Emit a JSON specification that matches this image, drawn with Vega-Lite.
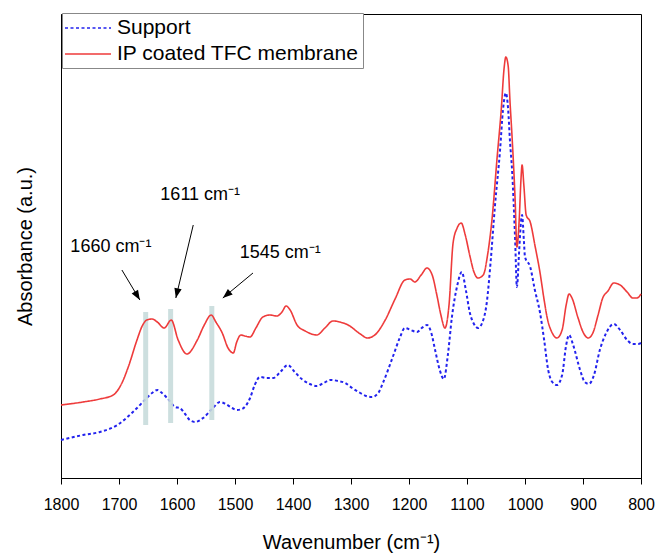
{
  "$schema": "https://vega.github.io/schema/vega-lite/v6.json",
  "width": 580,
  "height": 464,
  "autosize": {"type": "none"},
  "padding": {"left": 61, "top": 14, "right": 16, "bottom": 76},
  "background": "white",
  "config": {
    "font": "Liberation Sans",
    "view": {"stroke": "black", "strokeWidth": 1},
    "axis": {"grid": false, "domainColor": "black", "tickColor": "black", "labelColor": "black", "titleColor": "black", "titleFontWeight": "normal"}
  },
  "datasets": {
    "spectra": [
      {"series": "IP coated TFC membrane", "wn": 1800, "a": 73},
      {"series": "IP coated TFC membrane", "wn": 1762, "a": 76},
      {"series": "IP coated TFC membrane", "wn": 1733, "a": 79},
      {"series": "IP coated TFC membrane", "wn": 1710, "a": 83},
      {"series": "IP coated TFC membrane", "wn": 1695, "a": 95},
      {"series": "IP coated TFC membrane", "wn": 1684, "a": 111},
      {"series": "IP coated TFC membrane", "wn": 1669, "a": 138},
      {"series": "IP coated TFC membrane", "wn": 1660, "a": 152},
      {"series": "IP coated TFC membrane", "wn": 1652, "a": 158},
      {"series": "IP coated TFC membrane", "wn": 1643, "a": 159},
      {"series": "IP coated TFC membrane", "wn": 1634, "a": 156},
      {"series": "IP coated TFC membrane", "wn": 1622, "a": 150},
      {"series": "IP coated TFC membrane", "wn": 1610, "a": 158},
      {"series": "IP coated TFC membrane", "wn": 1598, "a": 138},
      {"series": "IP coated TFC membrane", "wn": 1583, "a": 124},
      {"series": "IP coated TFC membrane", "wn": 1565, "a": 138},
      {"series": "IP coated TFC membrane", "wn": 1553, "a": 153},
      {"series": "IP coated TFC membrane", "wn": 1541, "a": 163},
      {"series": "IP coated TFC membrane", "wn": 1533, "a": 156},
      {"series": "IP coated TFC membrane", "wn": 1522, "a": 145},
      {"series": "IP coated TFC membrane", "wn": 1512, "a": 130},
      {"series": "IP coated TFC membrane", "wn": 1503, "a": 125},
      {"series": "IP coated TFC membrane", "wn": 1497, "a": 136},
      {"series": "IP coated TFC membrane", "wn": 1490, "a": 143},
      {"series": "IP coated TFC membrane", "wn": 1483, "a": 142},
      {"series": "IP coated TFC membrane", "wn": 1474, "a": 141},
      {"series": "IP coated TFC membrane", "wn": 1464, "a": 150},
      {"series": "IP coated TFC membrane", "wn": 1452, "a": 161},
      {"series": "IP coated TFC membrane", "wn": 1440, "a": 163},
      {"series": "IP coated TFC membrane", "wn": 1428, "a": 162},
      {"series": "IP coated TFC membrane", "wn": 1419, "a": 166},
      {"series": "IP coated TFC membrane", "wn": 1412, "a": 172},
      {"series": "IP coated TFC membrane", "wn": 1405, "a": 168},
      {"series": "IP coated TFC membrane", "wn": 1393, "a": 153},
      {"series": "IP coated TFC membrane", "wn": 1379, "a": 147},
      {"series": "IP coated TFC membrane", "wn": 1359, "a": 143},
      {"series": "IP coated TFC membrane", "wn": 1345, "a": 150},
      {"series": "IP coated TFC membrane", "wn": 1331, "a": 157},
      {"series": "IP coated TFC membrane", "wn": 1319, "a": 156},
      {"series": "IP coated TFC membrane", "wn": 1305, "a": 153},
      {"series": "IP coated TFC membrane", "wn": 1284, "a": 144},
      {"series": "IP coated TFC membrane", "wn": 1272, "a": 140},
      {"series": "IP coated TFC membrane", "wn": 1259, "a": 143},
      {"series": "IP coated TFC membrane", "wn": 1241, "a": 158},
      {"series": "IP coated TFC membrane", "wn": 1224, "a": 179},
      {"series": "IP coated TFC membrane", "wn": 1207, "a": 198},
      {"series": "IP coated TFC membrane", "wn": 1198, "a": 199},
      {"series": "IP coated TFC membrane", "wn": 1190, "a": 196},
      {"series": "IP coated TFC membrane", "wn": 1179, "a": 203},
      {"series": "IP coated TFC membrane", "wn": 1169, "a": 210},
      {"series": "IP coated TFC membrane", "wn": 1160, "a": 203},
      {"series": "IP coated TFC membrane", "wn": 1152, "a": 183},
      {"series": "IP coated TFC membrane", "wn": 1145, "a": 163},
      {"series": "IP coated TFC membrane", "wn": 1138, "a": 150},
      {"series": "IP coated TFC membrane", "wn": 1131, "a": 173},
      {"series": "IP coated TFC membrane", "wn": 1124, "a": 235},
      {"series": "IP coated TFC membrane", "wn": 1117, "a": 250},
      {"series": "IP coated TFC membrane", "wn": 1110, "a": 255},
      {"series": "IP coated TFC membrane", "wn": 1103, "a": 243},
      {"series": "IP coated TFC membrane", "wn": 1095, "a": 222},
      {"series": "IP coated TFC membrane", "wn": 1088, "a": 206},
      {"series": "IP coated TFC membrane", "wn": 1081, "a": 200},
      {"series": "IP coated TFC membrane", "wn": 1072, "a": 203},
      {"series": "IP coated TFC membrane", "wn": 1064, "a": 225},
      {"series": "IP coated TFC membrane", "wn": 1057, "a": 258},
      {"series": "IP coated TFC membrane", "wn": 1048, "a": 321},
      {"series": "IP coated TFC membrane", "wn": 1041, "a": 368},
      {"series": "IP coated TFC membrane", "wn": 1036, "a": 410},
      {"series": "IP coated TFC membrane", "wn": 1033, "a": 421},
      {"series": "IP coated TFC membrane", "wn": 1029, "a": 412},
      {"series": "IP coated TFC membrane", "wn": 1026, "a": 378},
      {"series": "IP coated TFC membrane", "wn": 1022, "a": 338},
      {"series": "IP coated TFC membrane", "wn": 1017, "a": 278},
      {"series": "IP coated TFC membrane", "wn": 1014, "a": 231},
      {"series": "IP coated TFC membrane", "wn": 1010, "a": 258},
      {"series": "IP coated TFC membrane", "wn": 1007, "a": 298},
      {"series": "IP coated TFC membrane", "wn": 1005, "a": 313},
      {"series": "IP coated TFC membrane", "wn": 1002, "a": 293},
      {"series": "IP coated TFC membrane", "wn": 998, "a": 263},
      {"series": "IP coated TFC membrane", "wn": 991, "a": 256},
      {"series": "IP coated TFC membrane", "wn": 983, "a": 233},
      {"series": "IP coated TFC membrane", "wn": 974, "a": 205},
      {"series": "IP coated TFC membrane", "wn": 967, "a": 178},
      {"series": "IP coated TFC membrane", "wn": 962, "a": 161},
      {"series": "IP coated TFC membrane", "wn": 953, "a": 145},
      {"series": "IP coated TFC membrane", "wn": 945, "a": 140},
      {"series": "IP coated TFC membrane", "wn": 936, "a": 148},
      {"series": "IP coated TFC membrane", "wn": 929, "a": 173},
      {"series": "IP coated TFC membrane", "wn": 924, "a": 184},
      {"series": "IP coated TFC membrane", "wn": 919, "a": 180},
      {"series": "IP coated TFC membrane", "wn": 909, "a": 161},
      {"series": "IP coated TFC membrane", "wn": 900, "a": 146},
      {"series": "IP coated TFC membrane", "wn": 891, "a": 140},
      {"series": "IP coated TFC membrane", "wn": 883, "a": 145},
      {"series": "IP coated TFC membrane", "wn": 874, "a": 163},
      {"series": "IP coated TFC membrane", "wn": 866, "a": 180},
      {"series": "IP coated TFC membrane", "wn": 857, "a": 187},
      {"series": "IP coated TFC membrane", "wn": 847, "a": 195},
      {"series": "IP coated TFC membrane", "wn": 836, "a": 193},
      {"series": "IP coated TFC membrane", "wn": 824, "a": 186},
      {"series": "IP coated TFC membrane", "wn": 814, "a": 180},
      {"series": "IP coated TFC membrane", "wn": 807, "a": 180},
      {"series": "IP coated TFC membrane", "wn": 800, "a": 184},
      {"series": "Support", "wn": 1800, "a": 38},
      {"series": "Support", "wn": 1762, "a": 43},
      {"series": "Support", "wn": 1733, "a": 46},
      {"series": "Support", "wn": 1703, "a": 53},
      {"series": "Support", "wn": 1676, "a": 66},
      {"series": "Support", "wn": 1652, "a": 80},
      {"series": "Support", "wn": 1643, "a": 85},
      {"series": "Support", "wn": 1634, "a": 88},
      {"series": "Support", "wn": 1626, "a": 85},
      {"series": "Support", "wn": 1617, "a": 80},
      {"series": "Support", "wn": 1603, "a": 71},
      {"series": "Support", "wn": 1595, "a": 70},
      {"series": "Support", "wn": 1586, "a": 64},
      {"series": "Support", "wn": 1578, "a": 58},
      {"series": "Support", "wn": 1569, "a": 56},
      {"series": "Support", "wn": 1555, "a": 60},
      {"series": "Support", "wn": 1538, "a": 70},
      {"series": "Support", "wn": 1526, "a": 76},
      {"series": "Support", "wn": 1516, "a": 74},
      {"series": "Support", "wn": 1505, "a": 70},
      {"series": "Support", "wn": 1497, "a": 68},
      {"series": "Support", "wn": 1488, "a": 69},
      {"series": "Support", "wn": 1474, "a": 80},
      {"series": "Support", "wn": 1466, "a": 93},
      {"series": "Support", "wn": 1457, "a": 101},
      {"series": "Support", "wn": 1445, "a": 100},
      {"series": "Support", "wn": 1434, "a": 100},
      {"series": "Support", "wn": 1422, "a": 106},
      {"series": "Support", "wn": 1409, "a": 113},
      {"series": "Support", "wn": 1397, "a": 106},
      {"series": "Support", "wn": 1383, "a": 98},
      {"series": "Support", "wn": 1371, "a": 94},
      {"series": "Support", "wn": 1359, "a": 92},
      {"series": "Support", "wn": 1347, "a": 95},
      {"series": "Support", "wn": 1336, "a": 98},
      {"series": "Support", "wn": 1322, "a": 97},
      {"series": "Support", "wn": 1310, "a": 95},
      {"series": "Support", "wn": 1298, "a": 90},
      {"series": "Support", "wn": 1284, "a": 85},
      {"series": "Support", "wn": 1274, "a": 82},
      {"series": "Support", "wn": 1264, "a": 81},
      {"series": "Support", "wn": 1253, "a": 85},
      {"series": "Support", "wn": 1245, "a": 95},
      {"series": "Support", "wn": 1228, "a": 121},
      {"series": "Support", "wn": 1216, "a": 140},
      {"series": "Support", "wn": 1207, "a": 150},
      {"series": "Support", "wn": 1197, "a": 148},
      {"series": "Support", "wn": 1186, "a": 146},
      {"series": "Support", "wn": 1178, "a": 150},
      {"series": "Support", "wn": 1169, "a": 153},
      {"series": "Support", "wn": 1162, "a": 146},
      {"series": "Support", "wn": 1155, "a": 128},
      {"series": "Support", "wn": 1147, "a": 108},
      {"series": "Support", "wn": 1140, "a": 99},
      {"series": "Support", "wn": 1133, "a": 123},
      {"series": "Support", "wn": 1126, "a": 161},
      {"series": "Support", "wn": 1117, "a": 192},
      {"series": "Support", "wn": 1109, "a": 206},
      {"series": "Support", "wn": 1102, "a": 188},
      {"series": "Support", "wn": 1095, "a": 165},
      {"series": "Support", "wn": 1088, "a": 154},
      {"series": "Support", "wn": 1081, "a": 150},
      {"series": "Support", "wn": 1072, "a": 158},
      {"series": "Support", "wn": 1066, "a": 175},
      {"series": "Support", "wn": 1059, "a": 218},
      {"series": "Support", "wn": 1052, "a": 271},
      {"series": "Support", "wn": 1043, "a": 328},
      {"series": "Support", "wn": 1038, "a": 368},
      {"series": "Support", "wn": 1033, "a": 385},
      {"series": "Support", "wn": 1029, "a": 368},
      {"series": "Support", "wn": 1026, "a": 338},
      {"series": "Support", "wn": 1022, "a": 305},
      {"series": "Support", "wn": 1017, "a": 238},
      {"series": "Support", "wn": 1014, "a": 191},
      {"series": "Support", "wn": 1010, "a": 228},
      {"series": "Support", "wn": 1007, "a": 256},
      {"series": "Support", "wn": 1005, "a": 263},
      {"series": "Support", "wn": 1002, "a": 238},
      {"series": "Support", "wn": 1000, "a": 221},
      {"series": "Support", "wn": 991, "a": 211},
      {"series": "Support", "wn": 983, "a": 188},
      {"series": "Support", "wn": 974, "a": 165},
      {"series": "Support", "wn": 967, "a": 138},
      {"series": "Support", "wn": 960, "a": 108},
      {"series": "Support", "wn": 953, "a": 96},
      {"series": "Support", "wn": 945, "a": 93},
      {"series": "Support", "wn": 936, "a": 103},
      {"series": "Support", "wn": 929, "a": 133},
      {"series": "Support", "wn": 924, "a": 143},
      {"series": "Support", "wn": 917, "a": 133},
      {"series": "Support", "wn": 905, "a": 108},
      {"series": "Support", "wn": 897, "a": 96},
      {"series": "Support", "wn": 890, "a": 94},
      {"series": "Support", "wn": 881, "a": 103},
      {"series": "Support", "wn": 871, "a": 128},
      {"series": "Support", "wn": 860, "a": 145},
      {"series": "Support", "wn": 847, "a": 154},
      {"series": "Support", "wn": 836, "a": 148},
      {"series": "Support", "wn": 824, "a": 138},
      {"series": "Support", "wn": 814, "a": 134},
      {"series": "Support", "wn": 805, "a": 134},
      {"series": "Support", "wn": 800, "a": 135}
    ],
    "bands": [
      {"wn": 1654, "lo": 53, "hi": 166},
      {"wn": 1611, "lo": 55, "hi": 169},
      {"wn": 1540, "lo": 58, "hi": 172}
    ],
    "labels": [
      {"label": "1660 cm⁻¹", "wn": 1714, "a": 231},
      {"label": "1611 cm⁻¹", "wn": 1560, "a": 283},
      {"label": "1545 cm⁻¹", "wn": 1422, "a": 225}
    ],
    "arrows": [
      {"wn": 1695, "a": 208, "wn2": 1664, "a2": 178, "dir": 149},
      {"wn": 1572, "a": 253, "wn2": 1602, "a2": 180, "dir": 193},
      {"wn": 1469, "a": 205, "wn2": 1521, "a2": 180, "dir": 230}
    ]
  },
  "layer": [
    {
      "data": {"name": "spectra"},
      "transform": [{"filter": "datum.series === 'Support'"}],
      "mark": {"type": "line", "strokeWidth": 2, "interpolate": "monotone"},
      "encoding": {
        "x": {"field": "wn", "type": "quantitative", "scale": {"domain": [1800, 800], "nice": false, "zero": false},
          "axis": {"values": [1800, 1700, 1600, 1500, 1400, 1300, 1200, 1100, 1000, 900, 800], "format": "d", "title": "Wavenumber (cm⁻¹)", "labelFontSize": 16, "titleFontSize": 20, "tickSize": 6, "labelPadding": 12, "titlePadding": 20, "labelFlush": false}},
        "y": {"field": "a", "type": "quantitative", "scale": {"domain": [0, 464], "nice": false},
          "axis": {"title": "Absorbance (a.u.)", "labels": false, "ticks": false, "titleFontSize": 20, "titlePadding": 26}},
        "color": {"field": "series", "type": "nominal", "scale": {"domain": ["Support", "IP coated TFC membrane"], "range": ["#2222ee", "#ee3b3b"]},
          "legend": {"title": null, "orient": "none", "legendX": 1, "legendY": -1, "strokeColor": "#888888", "padding": 4, "labelFontSize": 21, "labelLimit": 0, "symbolType": "M-1.2,0H3.4", "symbolSize": 400, "symbolStrokeWidth": 1.5, "labelOffset": 29, "rowPadding": 5, "fillColor": "white", "labelColor": "black"}},
        "strokeDash": {"field": "series", "type": "nominal", "scale": {"domain": ["Support", "IP coated TFC membrane"], "range": [[3, 2.5], [1, 0]]}, "legend": null}
      }
    },
    {
      "data": {"name": "bands"},
      "mark": {"type": "rule", "strokeWidth": 5, "color": "#c8dcdc", "opacity": 0.9},
      "encoding": {
        "x": {"field": "wn", "type": "quantitative"},
        "y": {"field": "lo", "type": "quantitative"},
        "y2": {"field": "hi"}
      }
    },
    {
      "data": {"name": "spectra"},
      "transform": [{"filter": "datum.series !== 'Support'"}],
      "mark": {"type": "line", "strokeWidth": 1.6, "interpolate": "monotone"},
      "encoding": {
        "x": {"field": "wn", "type": "quantitative"},
        "y": {"field": "a", "type": "quantitative"},
        "color": {"field": "series", "type": "nominal"},
        "strokeDash": {"field": "series", "type": "nominal"}
      }
    },
    {
      "data": {"name": "arrows"},
      "mark": {"type": "rule", "color": "black", "strokeWidth": 1},
      "encoding": {
        "x": {"field": "wn", "type": "quantitative"},
        "y": {"field": "a", "type": "quantitative"},
        "x2": {"field": "wn2"},
        "y2": {"field": "a2"}
      }
    },
    {
      "data": {"name": "arrows"},
      "mark": {"type": "point", "shape": "M0,0L-0.38,1L0.38,1Z", "filled": true, "color": "black", "size": 380, "opacity": 1},
      "encoding": {
        "x": {"field": "wn2", "type": "quantitative"},
        "y": {"field": "a2", "type": "quantitative"},
        "angle": {"field": "dir", "type": "quantitative", "scale": null}
      }
    },
    {
      "data": {"name": "labels"},
      "mark": {"type": "text", "fontSize": 18, "color": "black", "align": "center", "baseline": "middle"},
      "encoding": {
        "x": {"field": "wn", "type": "quantitative"},
        "y": {"field": "a", "type": "quantitative"},
        "text": {"field": "label"}
      }
    }
  ]
}
